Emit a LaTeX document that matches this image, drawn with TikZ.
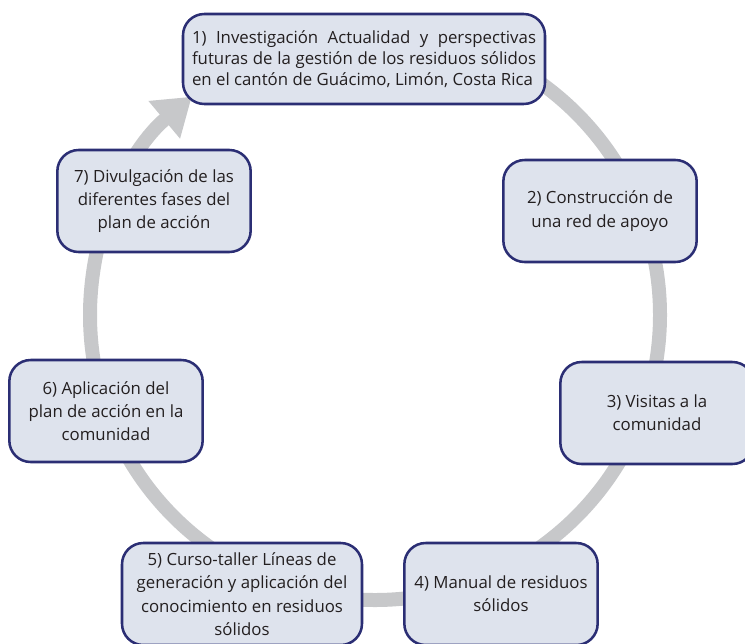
\documentclass[tikz,border=0pt]{standalone}
\usepackage{fontspec}
\setmainfont{Open Sans}
\usetikzlibrary{arrows.meta}
\definecolor{stagefill}{HTML}{DEE3ED}
\definecolor{stageline}{HTML}{2B2E74}
\definecolor{stagetext}{HTML}{231F20}
\definecolor{ringgray}{HTML}{C7C8CA}
\begin{document}
\begin{tikzpicture}[
    x=0.75pt, y=0.75pt,
    stage/.style={draw=stageline, fill=stagefill, line width=1.9pt,
        rounded corners=16pt, text=stagetext,
        font=\fontsize{12.6}{17.5}\selectfont, align=center, inner sep=3pt,
        minimum width=145pt, minimum height=76.5pt},
    wide stage/.style={stage, minimum width=180pt},
    top stage/.style={stage, minimum width=271.5pt, minimum height=67.5pt,
        text width=258pt, align=justify, font=\fontsize{12.6}{16}\selectfont},
    ring/.style={draw=ringgray, line width=10.5pt,
        -{Triangle[width=35pt,length=27pt]}},
  ]
  \useasboundingbox (0,0) rectangle (745,-643);
  \clip (0,0) rectangle (745,-643);
  % grey ring behind the stages
  \coordinate (c) at (375,-315);
  \path[ring] (c) ++(90:285) arc[start angle=90, end angle=-230, radius=285];
  % the stages, clockwise from the top
  \foreach \pos/\name/\kind/\label in {
      {(364,-59)/s1/top stage/{1) Investigación Actualidad y perspectivas\linebreak futuras de la gestión de los residuos sólidos\linebreak en el cantón de Guácimo, Limón, Costa Rica}},
      {(600,-211)/s2/stage/{2) Construcción de\\una red de apoyo}},
      {(657,-413)/s3/stage/{3) Visitas a la\\comunidad}},
      {(501,-594)/s4/stage/{4) Manual de residuos\\sólidos}},
      {(242,-594)/s5/wide stage/{5) Curso-taller Líneas de\\generación y aplicación del\\conocimiento en residuos\\sólidos}},
      {(106,-411)/s6/stage/{6) Aplicación del\\plan de acción en la\\comunidad}},
      {(154,-201)/s7/stage/{7) Divulgación de las\\diferentes fases del\\plan de acción}}}
    \node[\kind] (\name) at \pos {\label};
\end{tikzpicture}
\end{document}
